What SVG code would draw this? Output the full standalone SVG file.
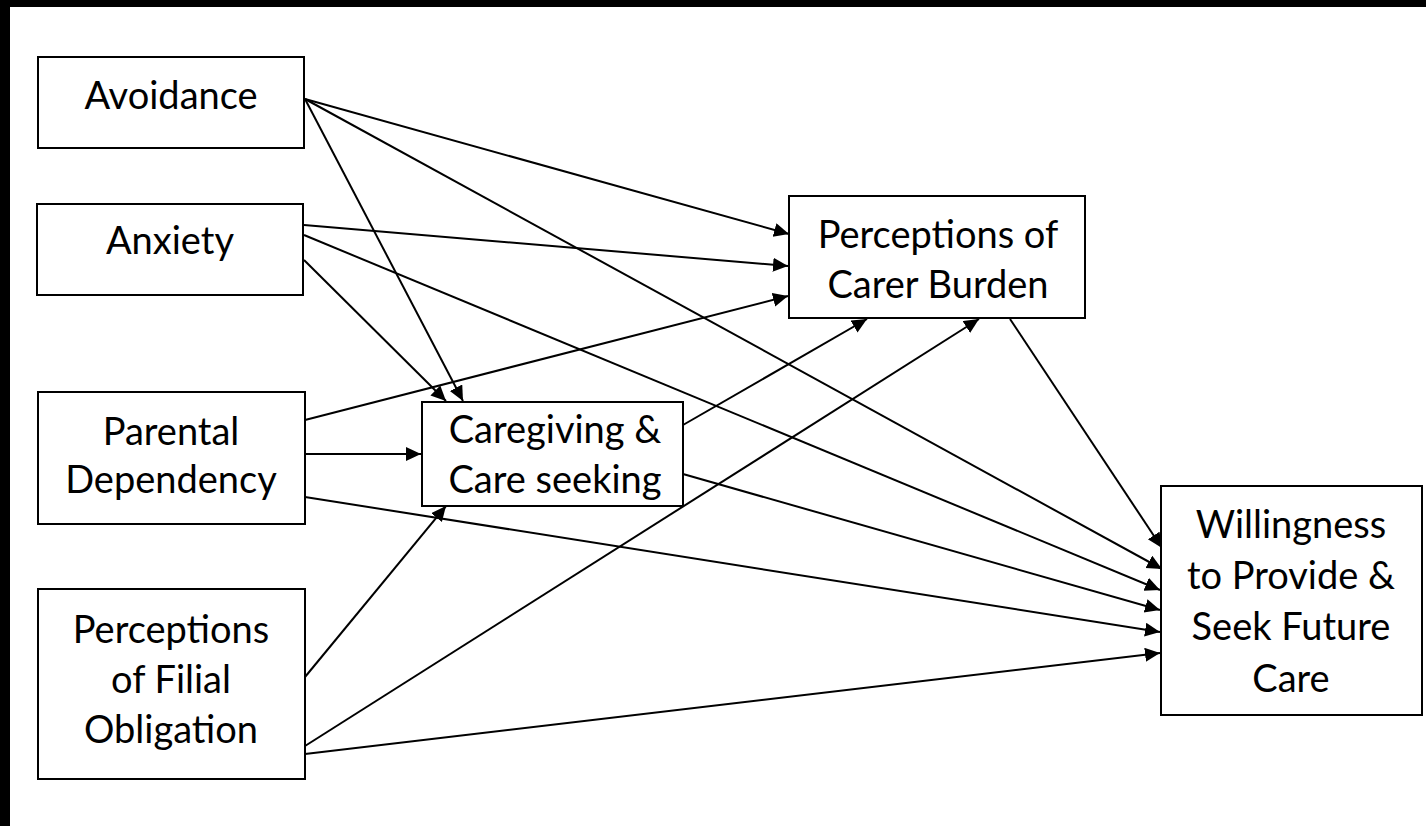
<svg xmlns="http://www.w3.org/2000/svg" width="1426" height="826" viewBox="0 0 1426 826">
<defs>
<marker id="ah" markerUnits="userSpaceOnUse" markerWidth="16" markerHeight="16" refX="15" refY="7" orient="auto">
<path d="M0,0 L15,7 L0,14 z" fill="#000"/>
</marker>
<style>
.box{fill:#fff;stroke:#000;stroke-width:2}
.lbl{font-family:Lato,"Open Sans","Liberation Sans",sans-serif;font-size:38px;fill:#000;text-anchor:middle}
.c{stroke:#000;stroke-width:2;fill:none;marker-end:url(#ah)}
</style>
</defs>
<rect x="0" y="0" width="1426" height="826" fill="#fff"/>
<rect x="0" y="0" width="1426" height="7" fill="#000"/>
<rect x="0" y="0" width="10" height="826" fill="#000"/>
<g id="connectors">
<line class="c" x1="305" y1="99" x2="789" y2="234"/>
<line class="c" x1="305" y1="99" x2="1162" y2="569"/>
<line class="c" x1="305" y1="99" x2="463" y2="401"/>
<line class="c" x1="304" y1="225" x2="788" y2="266"/>
<line class="c" x1="304" y1="235" x2="1160" y2="590"/>
<line class="c" x1="304" y1="260" x2="446" y2="401"/>
<line class="c" x1="305" y1="420" x2="788" y2="296"/>
<line class="c" x1="305" y1="454" x2="421" y2="454"/>
<line class="c" x1="305" y1="497" x2="1160" y2="632"/>
<line class="c" x1="305" y1="677" x2="446" y2="506"/>
<line class="c" x1="305" y1="746" x2="979" y2="319"/>
<line class="c" x1="305" y1="754" x2="1160" y2="653"/>
<line class="c" x1="683" y1="425" x2="867" y2="319"/>
<line class="c" x1="683" y1="474" x2="1160" y2="610"/>
<line class="c" x1="1010" y1="319" x2="1162" y2="548"/>
</g>
<g id="avoidance">
<rect class="box" x="38" y="57" width="266" height="91"/>
<text class="lbl" x="171" y="109">Avoidance</text>
</g>
<g id="anxiety">
<rect class="box" x="37" y="204" width="266" height="91"/>
<text class="lbl" x="170" y="254">Anxiety</text>
</g>
<g id="parental">
<rect class="box" x="38" y="392" width="267" height="132"/>
<text class="lbl" x="171" y="445">Parental</text>
<text class="lbl" x="171" y="493">Dependency</text>
</g>
<g id="filial">
<rect class="box" x="38" y="589" width="267" height="190"/>
<text class="lbl" x="171" y="643">Perceptions</text>
<text class="lbl" x="171" y="693">of Filial</text>
<text class="lbl" x="171" y="743">Obligation</text>
</g>
<g id="caregiving">
<rect class="box" x="422" y="402" width="261" height="104"/>
<text class="lbl" x="555" y="443">Caregiving &amp;</text>
<text class="lbl" x="555" y="493">Care seeking</text>
</g>
<g id="burden">
<rect class="box" x="789" y="196" width="296" height="122"/>
<text class="lbl" x="938" y="248">Perceptions of</text>
<text class="lbl" x="938" y="298">Carer Burden</text>
</g>
<g id="willingness">
<rect class="box" x="1161" y="486" width="261" height="229"/>
<text class="lbl" x="1291" y="538">Willingness</text>
<text class="lbl" x="1291" y="589">to Provide &amp;</text>
<text class="lbl" x="1291" y="640">Seek Future</text>
<text class="lbl" x="1291" y="692">Care</text>
</g>
</svg>
